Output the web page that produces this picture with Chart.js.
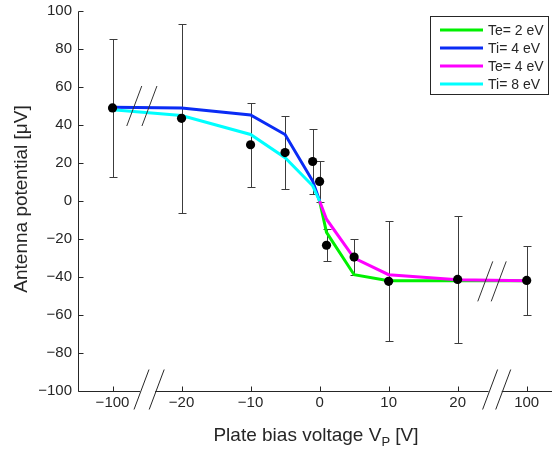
<!DOCTYPE html>
<html><head><meta charset="utf-8">
<style>html,body{margin:0;padding:0;background:#fff}#wrap{width:552px;height:450px}</style>
<script src="https://cdn.jsdelivr.net/npm/chart.js@4/dist/chart.umd.min.js"></script>
</head><body><div id="wrap"><canvas id="c" width="552" height="450"></canvas></div>
<script>
// ---- data (plate bias in volts, antenna potential in µV) ----
const xTickValues = [-100, -20, -10, 0, 10, 20, 100];
const xTickLabels = ['−100', '−20', '−10', '0', '10', '20', '100'];
const yTickValues = [-100, -80, -60, -40, -20, 0, 20, 40, 60, 80, 100];

const measVp  = [-100, -20, -10, -5, -1, 0, 1, 5, 10, 20, 100];
const measPot = [49, 43.5, 29.6, 25.5, 20.8, 10.3, -23.3, -29.5, -42.3, -41.3, -41.8];
const measErr = [36.5, 49.6, 22, 19.2, 17, 10.8, 8.3, 9.5, 31.6, 33.4, 18];

const te2Vp  = [0, 1, 5, 10, 20, 100];
const te2Pot = [0, -16.5, -38.8, -42, -42, -42];
const ti4Vp  = [-100, -20, -10, -5, -1, 0];
const ti4Pot = [49.3, 48.9, 45.3, 35, 10.5, 0];
const te4Vp  = [0, 1, 5, 10, 20, 100];
const te4Pot = [0, -9.6, -30, -38.8, -41.4, -42];
const ti8Vp  = [-100, -20, -10, -5, -1, 0];
const ti8Pot = [48, 45, 35, 22.8, 8, 0];

const seriesNames = ['Te= 2 eV', 'Ti= 4 eV', 'Te= 4 eV', 'Ti= 8 eV'];
const seriesColors = ['#00f000', '#0a2cf5', '#ff00ff', '#00ffff'];

// broken axis: ±100 V is drawn at the position of ±30
function axisPos(v) { return Math.abs(v) > 20 ? Math.sign(v) * 30 : v; }
function pts(xs, ys) { return xs.map((v, i) => ({ x: axisPos(v), y: ys[i] })); }

const FONT = "'Liberation Sans', Arial, Helvetica, sans-serif";
const INK = '#262626';

function slash(ctx, cx, cy) {
  ctx.beginPath();
  ctx.moveTo(cx - 7.5, cy + 20);
  ctx.lineTo(cx + 7.5, cy - 20);
  ctx.stroke();
}

const decor = {
  id: 'decor',
  beforeDatasetsDraw(chart) {
    const { ctx, scales: { x, y } } = chart;
    ctx.save();
    ctx.strokeStyle = '#3c3c3c';
    ctx.lineWidth = 1;
    measVp.forEach((v, i) => {
      const px = Math.round(x.getPixelForValue(axisPos(v))) + 0.5;
      const t = Math.round(y.getPixelForValue(measPot[i] + measErr[i])) + 0.5;
      const b = Math.round(y.getPixelForValue(measPot[i] - measErr[i])) + 0.5;
      ctx.beginPath();
      ctx.moveTo(px, t); ctx.lineTo(px, b);
      ctx.moveTo(px - 4, t); ctx.lineTo(px + 4, t);
      ctx.moveTo(px - 4, b); ctx.lineTo(px + 4, b);
      ctx.stroke();
    });
    ctx.restore();
  },
  afterDatasetsDraw(chart) {
    const { ctx, scales: { x, y } } = chart;
    ctx.save();
    ctx.strokeStyle = '#333';
    ctx.lineWidth = 1;
    [[-26.85, 50], [-24.65, 50], [24.0, -42.3], [25.95, -42.3]].forEach(([bx, by]) => {
      slash(ctx, x.getPixelForValue(bx), y.getPixelForValue(by));
    });
    ctx.restore();
  },
  afterDraw(chart) {
    const { ctx, chartArea: ca, scales: { x, y } } = chart;
    ctx.save();
    ctx.strokeStyle = INK;
    ctx.lineWidth = 1;
    const ay = Math.round(ca.bottom) + 0.5;
    const ax = Math.round(ca.left) + 0.5;
    // y axis
    ctx.beginPath();
    ctx.moveTo(ax, Math.round(ca.top) + 0.5); ctx.lineTo(ax, ay);
    ctx.stroke();
    // x axis with gaps at the breaks
    const br = [-25.8, -23.6, 24.7, 26.6].map(v => x.getPixelForValue(v));
    const segs = [[ax, br[0] - 1.5], [br[1] - 1.5, br[2] - 1.5], [br[3] - 1.5, chart.width]];
    ctx.beginPath();
    segs.forEach(([a, b]) => { ctx.moveTo(a, ay); ctx.lineTo(b, ay); });
    ctx.stroke();
    br.forEach(px => slash(ctx, px, ay - 2));
    // inward tick marks
    ctx.beginPath();
    yTickValues.forEach(v => {
      const py = Math.round(y.getPixelForValue(v)) + 0.5;
      ctx.moveTo(ax, py); ctx.lineTo(ax + 5, py);
    });
    xTickValues.forEach(v => {
      const px = Math.round(x.getPixelForValue(axisPos(v))) + 0.5;
      ctx.moveTo(px, ay); ctx.lineTo(px, ay - 5);
    });
    ctx.stroke();

    // legend
    ctx.fillStyle = '#fff';
    ctx.fillRect(430.5, 16.5, 118, 78);
    ctx.strokeStyle = INK;
    ctx.strokeRect(430.5, 16.5, 118, 78);
    ctx.font = '14px ' + FONT;
    ctx.textBaseline = 'middle';
    ctx.textAlign = 'left';
    seriesNames.forEach((name, i) => {
      const ry = 30 + i * 18;
      ctx.strokeStyle = seriesColors[i];
      ctx.lineWidth = 3;
      ctx.beginPath(); ctx.moveTo(440, ry); ctx.lineTo(483, ry); ctx.stroke();
      ctx.fillStyle = INK;
      ctx.fillText(name, 488, ry + 1);
    });

    // axis titles
    ctx.fillStyle = INK;
    ctx.textBaseline = 'alphabetic';
    const big = '19px ' + FONT, small = '13px ' + FONT;
    const p1 = 'Plate bias voltage V', p2 = 'P', p3 = ' [V]';
    ctx.font = big; const w1 = ctx.measureText(p1).width, w3 = ctx.measureText(p3).width;
    ctx.font = small; const w2 = ctx.measureText(p2).width;
    let sx = 316 - (w1 + w2 + w3) / 2;
    const base = 441;
    ctx.font = big; ctx.fillText(p1, sx, base); sx += w1;
    ctx.font = small; ctx.fillText(p2, sx, base + 5); sx += w2;
    ctx.font = big; ctx.fillText(p3, sx, base);

    ctx.translate(27, 199);
    ctx.rotate(-Math.PI / 2);
    ctx.font = big;
    ctx.textAlign = 'center';
    ctx.fillText('Antenna potential [μV]', 0, 0);
    ctx.restore();
  }
};

const lineDs = (label, xs, ys, color) => ({
  type: 'scatter', label, data: pts(xs, ys), showLine: true,
  borderColor: color, backgroundColor: color, borderWidth: 3,
  pointRadius: 0, tension: 0, borderJoinStyle: 'miter'
});

new Chart(document.getElementById('c'), {
  type: 'scatter',
  data: {
    datasets: [
      { label: 'measured', data: pts(measVp, measPot), showLine: false,
        pointRadius: 4.6, pointBackgroundColor: '#000', pointBorderColor: '#000', pointBorderWidth: 0 },
      lineDs(seriesNames[3], ti8Vp, ti8Pot, seriesColors[3]),
      lineDs(seriesNames[2], te4Vp, te4Pot, seriesColors[2]),
      lineDs(seriesNames[1], ti4Vp, ti4Pot, seriesColors[1]),
      lineDs(seriesNames[0], te2Vp, te2Pot, seriesColors[0])
    ]
  },
  options: {
    responsive: false,
    animation: false,
    layout: { padding: { top: 11, left: 0, right: 0, bottom: 0 } },
    plugins: { legend: { display: false }, tooltip: { enabled: false } },
    scales: {
      x: {
        type: 'linear', min: -35, max: 33.0,
        afterBuildTicks: s => { s.ticks = xTickValues.map(v => ({ value: axisPos(v) })); },
        ticks: {
          autoSkip: false, maxRotation: 0, padding: 3, color: INK,
          font: { family: FONT, size: 15 },
          callback: (val) => { const i = xTickValues.findIndex(v => axisPos(v) === val); return i >= 0 ? xTickLabels[i] : ''; }
        },
        grid: { display: false, drawTicks: false },
        border: { display: false },
        afterFit: s => { s.height = 59; s.paddingLeft = 0; s.paddingRight = 0; }
      },
      y: {
        min: -100, max: 100,
        afterBuildTicks: s => { s.ticks = yTickValues.map(v => ({ value: v })); },
        ticks: {
          padding: 6, color: INK, font: { family: FONT, size: 15 },
          callback: v => String(v).replace('-', '−')
        },
        grid: { display: false, drawTicks: false },
        border: { display: false },
        afterFit: s => { s.width = 78; s.paddingTop = 0; s.paddingBottom = 0; }
      }
    }
  },
  plugins: [decor]
});
</script>
</body></html>
